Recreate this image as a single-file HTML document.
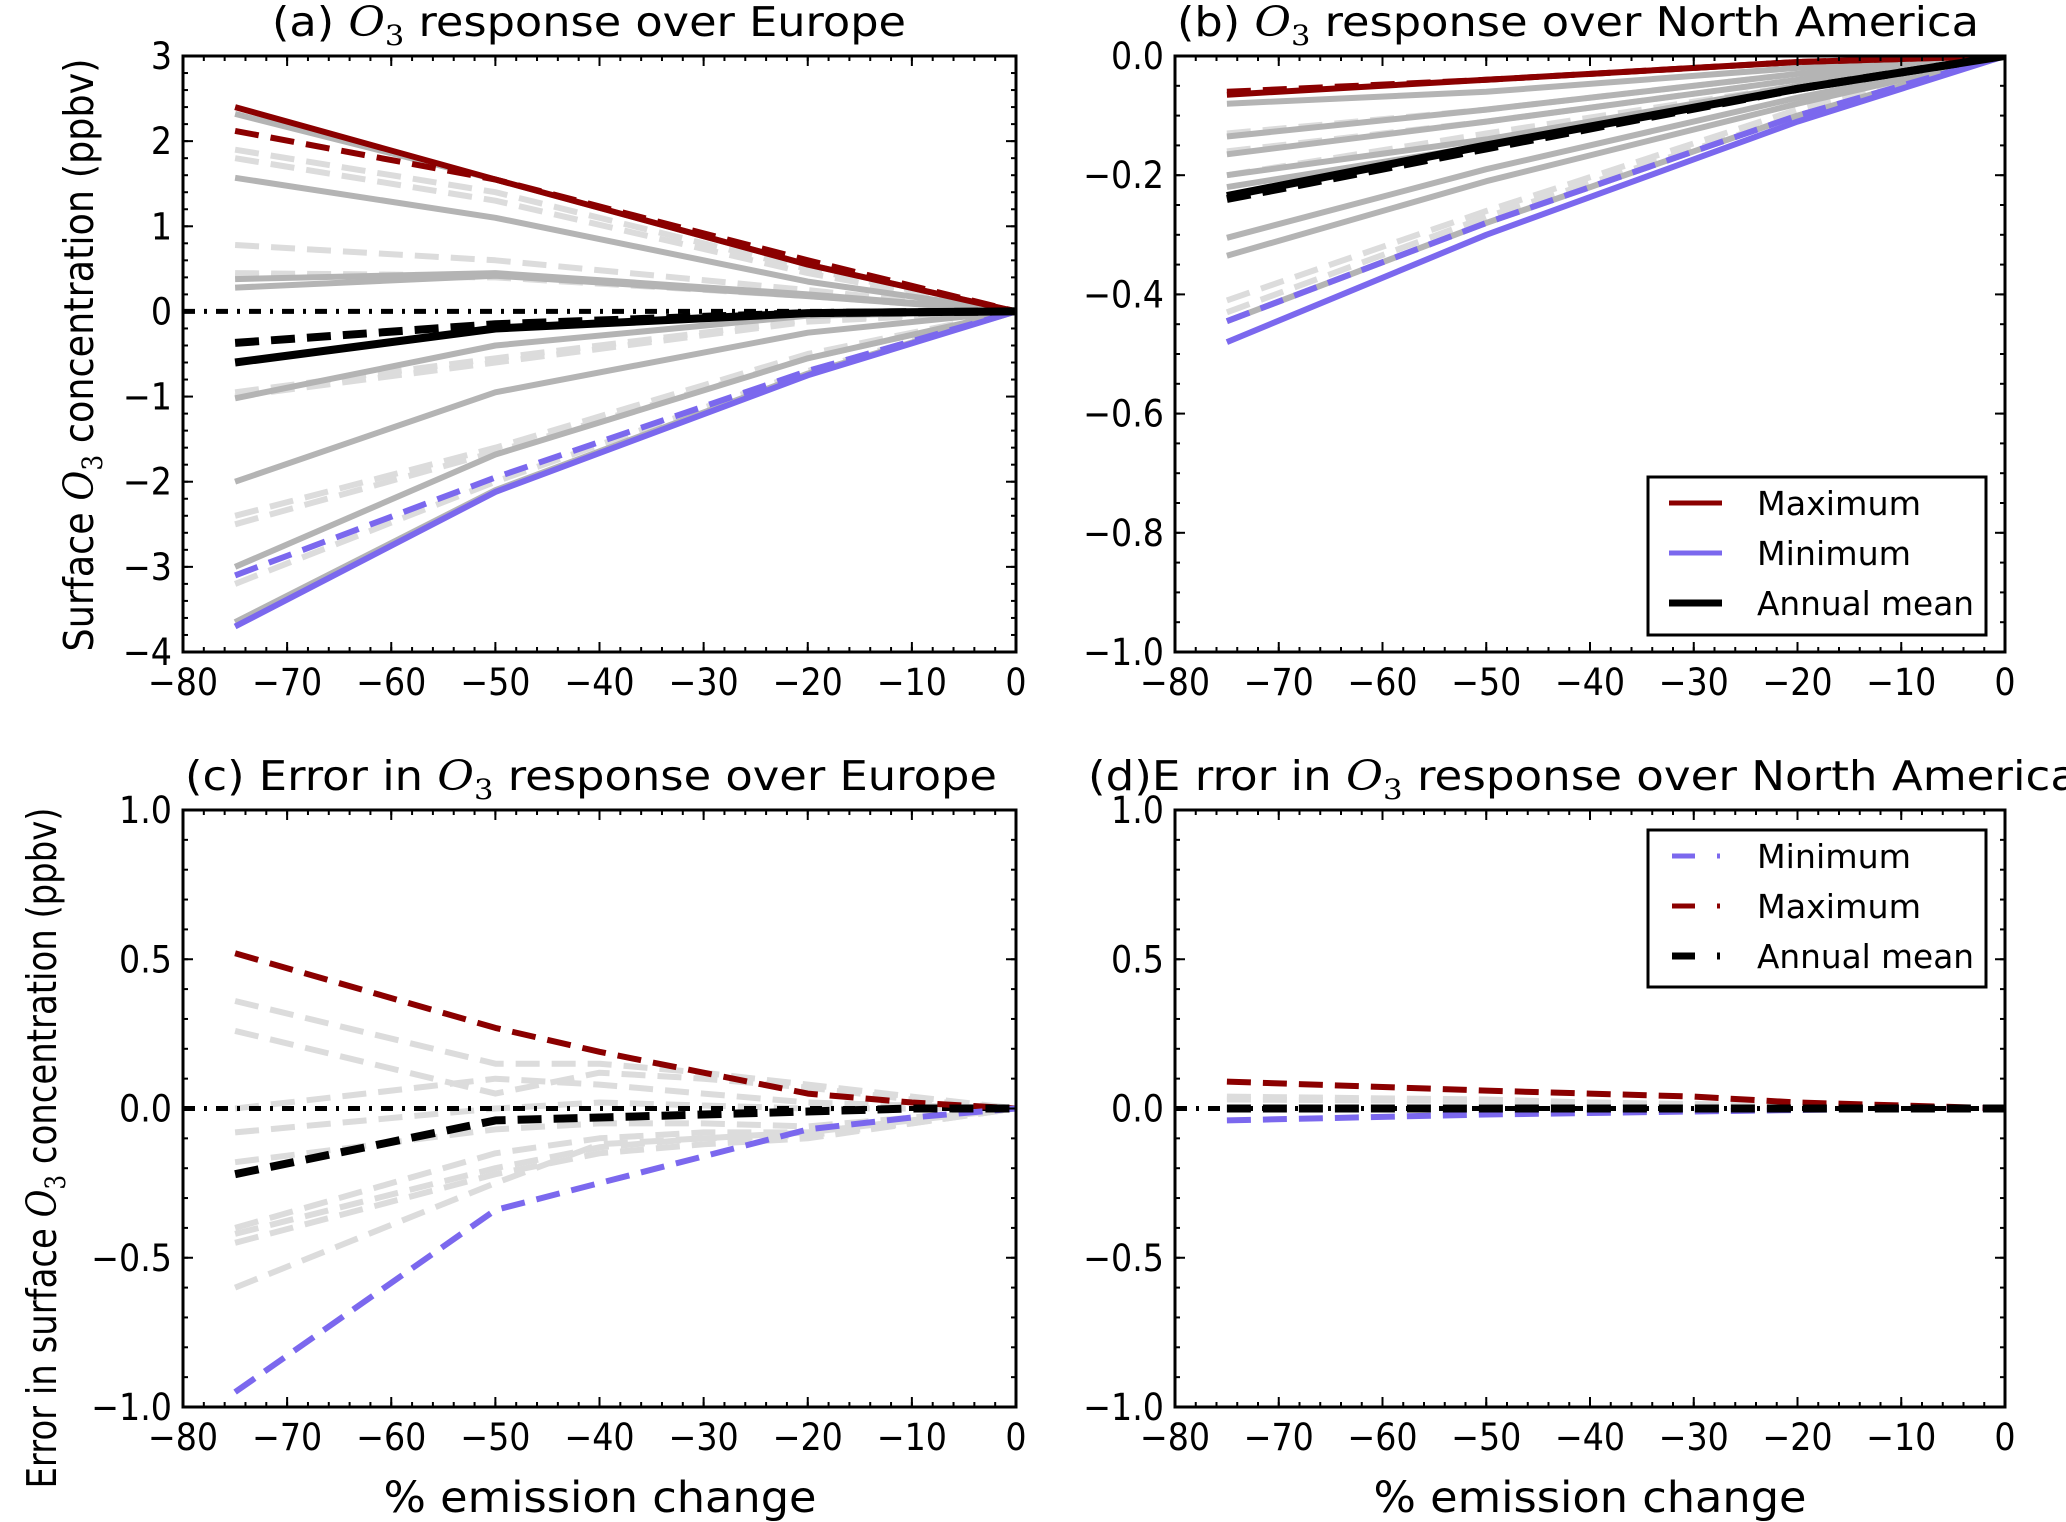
<!DOCTYPE html>
<html><head><meta charset="utf-8"><style>
html,body{margin:0;padding:0;background:#fff;}
svg{display:block;font-family:"DejaVu Sans","Liberation Sans",sans-serif;}
</style></head><body>
<svg id="fig" width="2066" height="1522" viewBox="0 0 2066 1522" xmlns="http://www.w3.org/2000/svg"></svg>
<script>
// ---------- data ----------
const xTicks = [-80,-70,-60,-50,-40,-30,-20,-10,0];
const xTickLabels = ['\u221280','\u221270','\u221260','\u221250','\u221240','\u221230','\u221220','\u221210','0'];
const respX = [-75,-50,-20,0];
const errX = [-75,-50,-40,-30,-20,-10,0];

// panel a (Europe response)
const aMax = [2.4,1.55,0.55,0];
const aMin = [-3.7,-2.12,-0.75,0];
const aMean = [-0.6,-0.2,-0.02,0];
const aMaxD = [2.12,1.55,0.6,0];
const aMinD = [-3.1,-1.95,-0.7,0];
const aMeanD = [-0.37,-0.15,-0.02,0];
const aGreySolid = [[2.32,1.55,0.55,0],[1.57,1.1,0.35,0],[0.38,0.45,0.2,0],[0.28,0.42,0.18,0],[-1.02,-0.4,-0.05,0],[-2.0,-0.95,-0.25,0],[-3.0,-1.68,-0.55,0],[-3.65,-2.1,-0.73,0]];
const aGreyDash = [[1.9,1.4,0.5,0],[1.8,1.3,0.45,0],[0.78,0.6,0.25,0],[0.45,0.42,0.2,0],[0.42,0.4,0.18,0],[-0.95,-0.55,-0.1,0],[-1.0,-0.6,-0.12,0],[-2.4,-1.6,-0.5,0],[-2.5,-1.65,-0.55,0],[-3.2,-2.0,-0.7,0]];
const aYTicks = [-4,-3,-2,-1,0,1,2,3];
const aYLabels = ['\u22124','\u22123','\u22122','\u22121','0','1','2','3'];

// panel b (North America response)
const bMax = [-0.065,-0.04,-0.01,0];
const bMin = [-0.48,-0.3,-0.11,0];
const bMean = [-0.235,-0.15,-0.055,0];
const bMaxD = [-0.06,-0.04,-0.01,0];
const bMinD = [-0.445,-0.28,-0.1,0];
const bMeanD = [-0.24,-0.155,-0.055,0];
const bGreySolid = [[-0.08,-0.06,-0.02,0],[-0.135,-0.09,-0.03,0],[-0.165,-0.11,-0.04,0],[-0.2,-0.14,-0.05,0],[-0.22,-0.15,-0.05,0],[-0.305,-0.19,-0.07,0],[-0.335,-0.21,-0.08,0],[-0.445,-0.28,-0.1,0]];
const bGreyDash = [[-0.13,-0.09,-0.03,0],[-0.16,-0.11,-0.04,0],[-0.2,-0.13,-0.05,0],[-0.41,-0.26,-0.09,0],[-0.43,-0.27,-0.1,0]];
const bYTicks = [-1.0,-0.8,-0.6,-0.4,-0.2,0.0];
const bYLabels = ['\u22121.0','\u22120.8','\u22120.6','\u22120.4','\u22120.2','0.0'];

// panel c (Europe error)
const cMax = [0.52,0.27,0.19,0.12,0.05,0.02,0];
const cMin = [-0.95,-0.34,-0.25,-0.16,-0.07,-0.03,0];
const cMean = [-0.22,-0.04,-0.03,-0.02,-0.01,0,0];
const cGrey = [[0.36,0.15,0.15,0.12,0.08,0.04,0],[0.26,0.05,0.12,0.1,0.07,0.03,0],[0.0,0.1,0.08,0.05,0.02,0.01,0],[-0.08,0.0,0.02,0.01,0,0,0],[-0.18,-0.07,-0.05,-0.05,-0.06,-0.03,0],[-0.4,-0.15,-0.1,-0.08,-0.08,-0.04,0],[-0.42,-0.2,-0.13,-0.1,-0.09,-0.05,0],[-0.45,-0.22,-0.15,-0.12,-0.1,-0.05,0],[-0.6,-0.25,-0.12,-0.1,-0.08,-0.04,0]];
// panel d (North America error)
const dMax = [0.09,0.06,0.05,0.04,0.02,0.01,0];
const dMin = [-0.04,-0.02,-0.015,-0.01,-0.005,0,0];
const dMean = [0,0,0,0,0,0,0];
const dGrey = [[0.04,0.03,0.02,0.015,0.01,0.005,0],[0.03,0.025,0.02,0.01,0.005,0,0]];
const errYTicks = [-1.0,-0.5,0.0,0.5,1.0];
const errYLabels = ['\u22121.0','\u22120.5','0.0','0.5','1.0'];

// ---------- drawing ----------
const NS='http://www.w3.org/2000/svg';
const svg=document.getElementById('fig');
const RED='#8b0000', BLUE='#7b68ee', GREY='#b4b4b4', LGREY='#dcdcdc';
function mk(tag,attrs,parent){const e=document.createElementNS(NS,tag);for(const k in attrs)e.setAttribute(k,attrs[k]);(parent||svg).appendChild(e);return e;}
function textW(s,fs){let w=0;for(const c of s){w+=c==='\u2212'?0.838:(c==='.'?0.318:0.636);}return w*fs*0.9;}

function makeAxes(name,L,R,T,B,ymin,ymax,minorStep){
  const g=mk('g',{});
  
  
  const sx=v=>L+(v+80)/80*(R-L);
  const sy=v=>B-(v-ymin)/(ymax-ymin)*(B-T);
  const clipId='clip-'+name;
  const cp=mk('clipPath',{id:clipId},g);mk('rect',{x:L,y:T,width:R-L,height:B-T},cp);
  const plot=mk('g',{'clip-path':'url(#'+clipId+')'},g);
  
  
  return {g,plot,sx,sy,L,R,T,B,ymin,ymax,minorStep};
}
function line(ax,xs,ys,color,w,dash,name){
  const d=xs.map((x,i)=>(i?'L':'M')+ax.sx(x).toFixed(1)+' '+ax.sy(ys[i]).toFixed(1)).join(' ');
  const p=mk('path',{d:d,fill:'none',stroke:color,'stroke-width':w,'stroke-dasharray':dash||'none','stroke-linejoin':'round'},ax.plot);
  
  
}
function zeroLine(ax){
  const p=mk('line',{x1:ax.L,x2:ax.R,y1:ax.sy(0),y2:ax.sy(0),stroke:'#000','stroke-width':5,'stroke-dasharray':'12 9 3 9'},ax.plot);
  
  
}
function frame(ax,yTicks,yLabels){
  const g=ax.g;
  for(let x=-80;x<=0.001;x+=2){const X=ax.sx(x);mk('line',{x1:X,x2:X,y1:ax.B,y2:ax.B-5,stroke:'#000','stroke-width':2},g);mk('line',{x1:X,x2:X,y1:ax.T,y2:ax.T+5,stroke:'#000','stroke-width':2},g);}
  const n=Math.round((ax.ymax-ax.ymin)/ax.minorStep);
  for(let i=0;i<=n;i++){const Y=ax.sy(ax.ymin+i*ax.minorStep);mk('line',{x1:ax.L,x2:ax.L+5,y1:Y,y2:Y,stroke:'#000','stroke-width':2},g);mk('line',{x1:ax.R,x2:ax.R-5,y1:Y,y2:Y,stroke:'#000','stroke-width':2},g);}
  xTicks.forEach((x,i)=>{const X=ax.sx(x);
    mk('line',{x1:X,x2:X,y1:ax.B,y2:ax.B-10,stroke:'#000','stroke-width':2},g);mk('line',{x1:X,x2:X,y1:ax.T,y2:ax.T+10,stroke:'#000','stroke-width':2},g);
    const s=xTickLabels[i];const t=mk('text',{x:X,y:ax.B+43,'font-size':37,'text-anchor':'middle',textLength:textW(s,37),lengthAdjust:'spacingAndGlyphs'},g);t.textContent=s;
    
    
  });
  yTicks.forEach((v,i)=>{const Y=ax.sy(v);
    mk('line',{x1:ax.L,x2:ax.L+10,y1:Y,y2:Y,stroke:'#000','stroke-width':2},g);mk('line',{x1:ax.R,x2:ax.R-10,y1:Y,y2:Y,stroke:'#000','stroke-width':2},g);
    const s=yLabels[i];const t=mk('text',{x:ax.L-11,y:Y+13,'font-size':37,'text-anchor':'end',textLength:textW(s,37),lengthAdjust:'spacingAndGlyphs'},g);t.textContent=s;
    
    
  });
  const r=mk('rect',{x:ax.L,y:ax.T,width:ax.R-ax.L,height:ax.B-ax.T,fill:'none',stroke:'#000','stroke-width':3},g);
  
  
}
function title(x,y,len,pre,post,name){
  const t=mk('text',{x:x,y:y,'font-size':41,textLength:len,lengthAdjust:'spacingAndGlyphs'});
  t.innerHTML=pre+'<tspan font-family="DejaVu Serif, Liberation Serif, serif" font-style="italic">O</tspan><tspan font-family="DejaVu Serif, Liberation Serif, serif" font-size="28" dy="9">3</tspan><tspan dy="-9">'+post+'</tspan>';
  
  
}

// Panel a
const A=makeAxes('panel-a-europe-response',183,1016,56,652,-4,3,0.2);
aGreyDash.forEach(s=>line(A,respX,s,LGREY,6,'24 12','grey-dashed-line'));
aGreySolid.forEach(s=>line(A,respX,s,GREY,6,null,'grey-solid-line'));
zeroLine(A);
line(A,respX,aMaxD,RED,6,'24 12','max-dashed');
line(A,respX,aMinD,BLUE,6,'24 12','min-dashed');
line(A,respX,aMeanD,'#000',8,'24 12','mean-dashed');
line(A,respX,aMax,RED,6,null,'max-solid');
line(A,respX,aMin,BLUE,6,null,'min-solid');
line(A,respX,aMean,'#000',8,null,'mean-solid');
frame(A,aYTicks,aYLabels);

// Panel b
const Bx=makeAxes('panel-b-north-america-response',1175,2005,56,652,-1,0,0.05);
bGreyDash.forEach(s=>line(Bx,respX,s,LGREY,6,'24 12','grey-dashed-line'));
bGreySolid.forEach(s=>line(Bx,respX,s,GREY,6,null,'grey-solid-line'));
line(Bx,respX,bMaxD,RED,6,'24 12','max-dashed');
line(Bx,respX,bMinD,BLUE,6,'24 12','min-dashed');
line(Bx,respX,bMeanD,'#000',8,'24 12','mean-dashed');
line(Bx,respX,bMax,RED,6,null,'max-solid');
line(Bx,respX,bMin,BLUE,6,null,'min-solid');
line(Bx,respX,bMean,'#000',8,null,'mean-solid');
frame(Bx,bYTicks,bYLabels);

// Panel c
const C=makeAxes('panel-c-europe-error',183,1016,810,1407,-1,1,0.1);
cGrey.forEach(s=>line(C,errX,s,LGREY,6,'24 12','grey-dashed-line'));
zeroLine(C);
line(C,errX,cMax,RED,6,'24 12','max-error');
line(C,errX,cMin,BLUE,6,'24 12','min-error');
line(C,errX,cMean,'#000',8,'24 12','mean-error');
frame(C,errYTicks,errYLabels);

// Panel d
const D=makeAxes('panel-d-north-america-error',1175,2005,810,1407,-1,1,0.1);
dGrey.forEach(s=>line(D,errX,s,LGREY,6,'24 12','grey-dashed-line'));
line(D,errX,dMax,RED,6,'24 12','max-error');
line(D,errX,dMin,BLUE,6,'24 12','min-error');
zeroLine(D);
line(D,errX,dMean,'#000',8,'24 12','mean-error');
frame(D,errYTicks,errYLabels);

// Titles
title(272,36,634,'(a) ',' response over Europe','title-a');
title(1177,36,802,'(b) ',' response over North America','title-b');
title(185,790,812,'(c) Error in ',' response over Europe','title-c');
title(1088,790,990,'(d)E rror in ',' response over North America','title-d');

// axis titles
(function(){
  const t1=mk('text',{x:0,y:0,'font-size':41,'text-anchor':'middle',transform:'translate(93,355) rotate(-90)',textLength:593,lengthAdjust:'spacingAndGlyphs'});
  t1.innerHTML='Surface <tspan font-family="DejaVu Serif, Liberation Serif, serif" font-style="italic">O</tspan><tspan font-family="DejaVu Serif, Liberation Serif, serif" font-size="28" dy="9">3</tspan><tspan dy="-9"> concentration (ppbv)</tspan>';
  
  
  const t2=mk('text',{x:0,y:0,'font-size':41,'text-anchor':'middle',transform:'translate(56,1148) rotate(-90)',textLength:681,lengthAdjust:'spacingAndGlyphs'});
  t2.innerHTML='Error in surface  <tspan font-family="DejaVu Serif, Liberation Serif, serif" font-style="italic">O</tspan><tspan font-family="DejaVu Serif, Liberation Serif, serif" font-size="28" dy="9">3</tspan><tspan dy="-9"> concentration (ppbv)</tspan>';
  
  
  [[600,'x-axis-title-c'],[1590,'x-axis-title-d']].forEach(([cx,n])=>{
    const t=mk('text',{x:cx,y:1512,'font-size':43,'text-anchor':'middle',textLength:433,lengthAdjust:'spacingAndGlyphs'});
    t.textContent='% emission change';
    
    
  });
})();

// Legends
const legendWidths={'Maximum':164,'Minimum':154,'Annual mean':217};
function legend(name,top,bottom,entries,dashed){
  const g=mk('g',{});
  
  
  mk('rect',{x:1648,y:top,width:338,height:bottom-top,fill:'#fff',stroke:'#000','stroke-width':3},g);
  entries.forEach((e,i)=>{
    const y=top+26+i*50;
    const item=mk('g',{},g);
    
    
    if(dashed){mk('line',{x1:1672,x2:1695,y1:y,y2:y,stroke:e[1],'stroke-width':e[2]},item);mk('line',{x1:1717,x2:1720,y1:y,y2:y,stroke:e[1],'stroke-width':e[2]},item);}
    else mk('line',{x1:1669,x2:1722,y1:y,y2:y,stroke:e[1],'stroke-width':e[2]},item);
    const t=mk('text',{x:1757,y:y+12,'font-size':33,textLength:legendWidths[e[0]],lengthAdjust:'spacingAndGlyphs'},item);t.textContent=e[0];
  });
}
legend('legend-b',477,635,[['Maximum',RED,5],['Minimum',BLUE,5],['Annual mean','#000',7]],false);
legend('legend-d',830,987,[['Minimum',BLUE,5],['Maximum',RED,5],['Annual mean','#000',7]],true);
</script>
</body></html>
